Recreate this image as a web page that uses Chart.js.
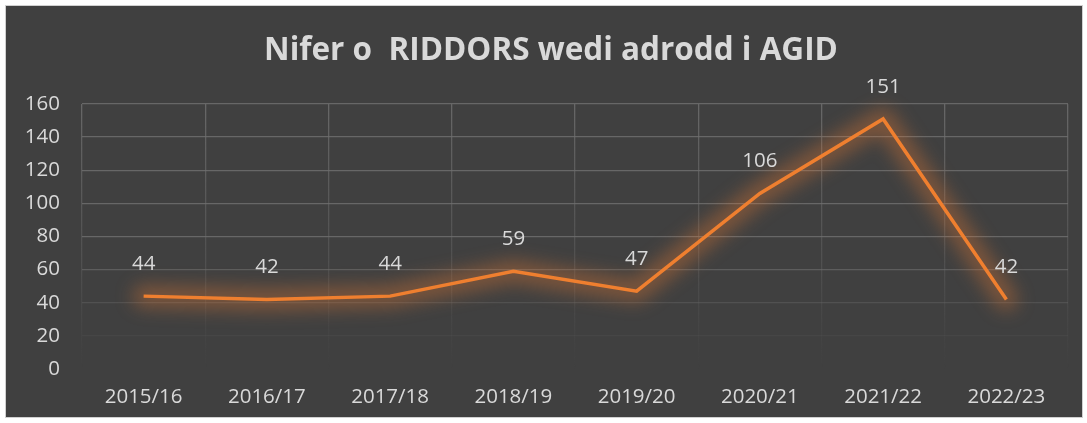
<!DOCTYPE html>
<html>
<head>
<meta charset="utf-8">
<script src="https://cdn.jsdelivr.net/npm/chart.js@4"></script>
<style>
html,body{margin:0;padding:0;background:#ffffff;}
#wrap{position:absolute;left:5px;top:5px;width:1076px;height:411px;border:1px solid #d0d0d0;background:#404040;}
canvas{display:block;}
</style>
</head>
<body>
<div id="wrap"><canvas id="c" width="1076" height="411"></canvas></div>
<script>
const titleText = 'Nifer o  RIDDORS wedi adrodd i AGID';
const categories = ['2015/16','2016/17','2017/18','2018/19','2019/20','2020/21','2021/22','2022/23'];
const riddors = [44, 42, 44, 59, 47, 106, 151, 42];
const yTicks = [0, 20, 40, 60, 80, 100, 120, 140, 160];

const FONT = "'Open Sans', 'Noto Sans', sans-serif";
const TEXT = '#d9d9d9';
const LINE = '#ef7f2f';

const titlePlugin = {
  id: 'customTitle',
  afterDraw(chart) {
    const ctx = chart.ctx;
    ctx.save();
    ctx.font = 'bold 31.5px ' + FONT;
    ctx.fillStyle = TEXT;
    ctx.textAlign = 'center';
    ctx.textBaseline = 'middle';
    ctx.fillText(titleText, chart.width / 2 + 7, 45);
    ctx.restore();
  }
};

const glowPlugin = {
  id: 'glow',
  beforeDatasetDraw(chart) {
    const ctx = chart.ctx;
    const pts = chart.getDatasetMeta(0).data;
    ctx.save();
    ctx.filter = 'blur(9px)';
    ctx.strokeStyle = 'rgba(237,125,49,0.36)';
    ctx.lineWidth = 22;
    ctx.lineJoin = 'round';
    ctx.lineCap = 'round';
    ctx.beginPath();
    pts.forEach((p, i) => { if (i === 0) ctx.moveTo(p.x, p.y); else ctx.lineTo(p.x, p.y); });
    ctx.stroke();
    ctx.restore();
  }
};

const labelPlugin = {
  id: 'valueLabels',
  afterDatasetsDraw(chart) {
    const ctx = chart.ctx;
    const meta = chart.getDatasetMeta(0);
    ctx.save();
    ctx.font = '20.5px ' + FONT;
    ctx.fillStyle = TEXT;
    ctx.textAlign = 'center';
    ctx.textBaseline = 'middle';
    meta.data.forEach((pt, i) => {
      ctx.fillText(String(riddors[i]), pt.x, pt.y - 32);
    });
    ctx.restore();
  }
};

function vGrad(ctx) {
  const chart = ctx.chart;
  const a = chart.chartArea;
  if (!a) return 'rgba(100,100,100,0.8)';
  const g = chart.ctx.createLinearGradient(0, a.top, 0, a.bottom);
  g.addColorStop(0, 'rgba(110,110,110,0.85)');
  g.addColorStop(0.6, 'rgba(100,100,100,0.45)');
  g.addColorStop(1, 'rgba(90,90,90,0.0)');
  return g;
}

new Chart(document.getElementById('c'), {
  type: 'line',
  data: {
    labels: categories,
    datasets: [{
      data: riddors,
      borderColor: LINE,
      borderWidth: 3.5,
      pointRadius: 0,
      tension: 0,
      fill: false
    }]
  },
  options: {
    responsive: false,
    animation: false,
    layout: { padding: { left: 0, right: 14, top: 98, bottom: 0 } },
    plugins: {
      legend: { display: false },
      tooltip: { enabled: false },
      title: { display: false }
    },
    scales: {
      x: {
        offset: true,
        grid: { color: vGrad, lineWidth: 1.3, offset: true, drawTicks: false },
        border: { display: false },
        ticks: { color: TEXT, font: { family: FONT, size: 20.5 }, padding: 16 },
        afterFit(s) { s.height = 48; }
      },
      y: {
        min: 0, max: 160,
        afterBuildTicks(s) { s.ticks = yTicks.map(v => ({ value: v })); },
        grid: {
          drawTicks: false,
          lineWidth: 1.3,
          color(ctx) {
            const v = ctx.tick ? ctx.tick.value : 0;
            const a = Math.max(0, Math.min(0.85, (v - 10) / 80));
            return 'rgba(110,110,110,' + a.toFixed(3) + ')';
          }
        },
        border: { display: false },
        ticks: { color: TEXT, font: { family: FONT, size: 20.5 }, padding: 22 },
        afterFit(s) { s.width = 76; }
      }
    }
  },
  plugins: [glowPlugin, labelPlugin, titlePlugin]
});
</script>
</body>
</html>
